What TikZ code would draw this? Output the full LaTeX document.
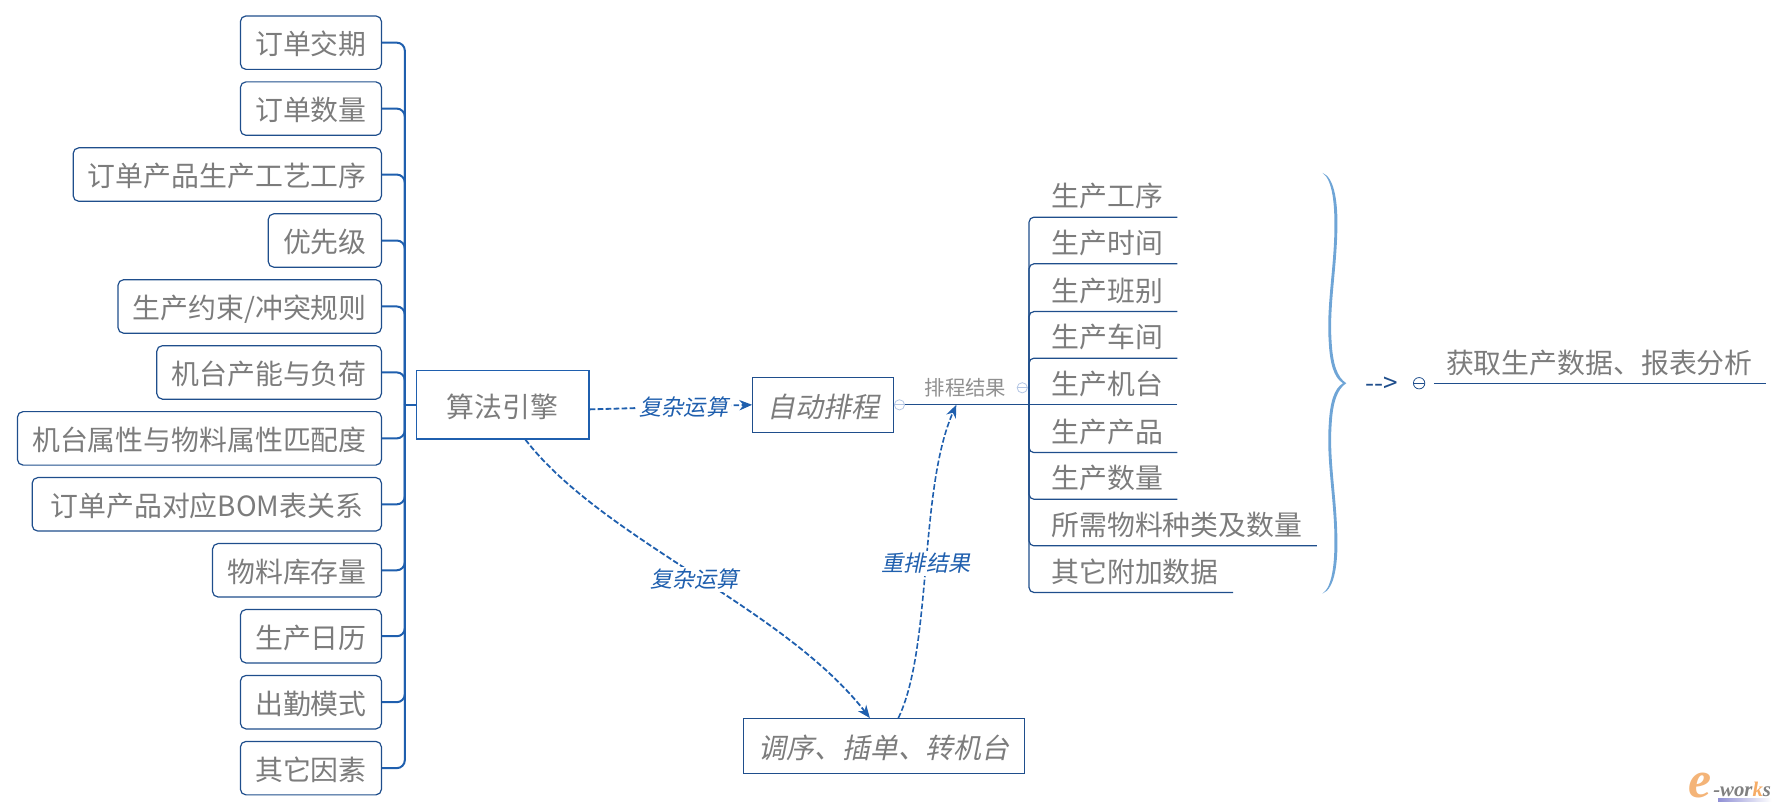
\documentclass[tikz,border=0pt]{standalone}
\usepackage{fontspec}
\setmainfont{Noto Sans CJK SC}
\newfontfamily\slantfont[FakeSlant=0.2]{Noto Sans CJK SC}
\newfontfamily\logofont{Liberation Serif}
\usepackage{tikz}
\usetikzlibrary{arrows.meta}

\definecolor{linkblue}{HTML}{1F5FAE}
\definecolor{thinblue}{HTML}{1F4E8C}
\definecolor{bracecol}{HTML}{6FA5D6}
\definecolor{textgray}{HTML}{7C7C7C}
\definecolor{ringblue}{HTML}{B4C6E4}
\definecolor{logoorange}{HTML}{F4B478}

\tikzset{
  bodyfont/.style={text=textgray, text height=6.9pt, text depth=0.8pt, font=\fontsize{6.97}{8}\selectfont},
  factor/.style={draw=thinblue, line width=0.3pt, rounded corners=1.4pt, anchor=east, inner xsep=0.13cm, inner ysep=0pt, minimum height=0.47cm, bodyfont},
  stage/.style={draw=thinblue, line width=0.3pt, inner sep=0pt, minimum height=0.48cm, bodyfont, font=\fontsize{6.97}{8}\selectfont\slantfont},
  leaf/.style={anchor=south west, inner sep=0pt, minimum height=0.38cm, bodyfont},
  flow/.style={-{Stealth[length=3.2pt, width=2.6pt]}, draw=linkblue, line width=0.45pt, dash pattern=on 1.4pt off 0.6pt},
  flowlabel/.style={fill=white, inner sep=0.6pt, text=linkblue, font=\fontsize{5.55}{7}\selectfont\slantfont},
  ring/.style={circle, draw=#1, line width=0.2pt, inner sep=0pt, minimum size=0.09cm, path picture={\draw[#1, line width=0.2pt] (path picture bounding box.west) -- (path picture bounding box.east);}}
}

\begin{document}
\begin{tikzpicture}[>=stealth, x=0.01cm, y=-0.01cm]
\useasboundingbox (0,0) rectangle (1568,714);

% ============================
% Left column: input factors
% ============================
\node[factor] (due)      at (336,37.5)  {订单交期};
\node[factor] (qty)      at (336,95.5)  {订单数量};
\node[factor] (process)  at (336,153.5) {订单产品生产工艺工序};
\node[factor] (priority) at (336,211.5) {优先级};
\node[factor] (rules)    at (336,269.5) {生产约束/冲突规则};
\node[factor] (capacity) at (336,327.5) {机台产能与负荷};
\node[factor] (match)    at (336,385.5) {机台属性与物料属性匹配度};
\node[factor, minimum width=3.07cm] (bom) at (336,443.5) {订单产品对应BOM表关系};
\node[factor] (stock)    at (336,501.5) {物料库存量};
\node[factor] (calendar) at (336,559.5) {生产日历};
\node[factor] (shift)    at (336,617.5) {出勤模式};
\node[factor] (other)    at (336,675.5) {其它因素};

% ============================
% Middle: engine and stages
% ============================
\node[draw=linkblue, line width=0.3pt, minimum width=1.52cm, minimum height=0.6cm, inner sep=0pt, bodyfont] (engine) at (442,356) {算法引擎};
\node[stage, minimum width=1.24cm] (schedule) at (724,356) {自动排程};
\node[stage, minimum width=2.47cm] (adjust)   at (777.5,656) {调序、插单、转机台};

% Bundle of factors into the engine
\coordinate (hub) at (356,356);
\begin{scope}[draw=linkblue, line width=0.5pt, rounded corners=2pt]
\draw (due.east) -| (hub);
\draw (qty.east) -| (hub);
\draw (process.east) -| (hub);
\draw (priority.east) -| (hub);
\draw (rules.east) -| (hub);
\draw (capacity.east) -| (hub);
\draw (match.east) -| (hub);
\draw (bom.east) -| (hub);
\draw (stock.east) -| (hub);
\draw (calendar.east) -| (hub);
\draw (shift.east) -| (hub);
\draw (other.east) -| (hub);
\draw (hub) -- (engine.west);
\end{scope}

% Dashed flows
\draw[flow] ([yshift=-0.04cm]engine.east) -- (schedule.west)
    node[flowlabel, pos=0.58] {复杂运算};
\draw[flow] ([xshift=0.2cm]engine.south) .. controls +(68,88) and +(-75,-97) .. ([xshift=-0.125cm]adjust.north)
    node[flowlabel, pos=0.5, yshift=-0.04cm] {复杂运算};
\draw[flow, line width=0.4pt] ([xshift=0.125cm]adjust.north) .. controls +(30,-62) and +(-33,74) .. (841,356)
    node[flowlabel, pos=0.5, yshift=0.03cm] {重排结果};

% ============================
% Right column: schedule results
% ============================
\node[leaf] (step)    at (924,191) {生产工序};
\node[leaf] (time)    at (924,232) {生产时间};
\node[leaf] (team)    at (924,274) {生产班别};
\node[leaf] (shop)    at (924,315) {生产车间};
\node[leaf] (machine) at (924,356) {生产机台};
\node[leaf] (product) at (924,398) {生产产品};
\node[leaf] (amount)  at (924,439) {生产数量};
\node[leaf] (material) at (924,480) {所需物料种类及数量};
\node[leaf] (extra)   at (924,521) {其它附加数据};

\coordinate (trunk) at (905,356);
\begin{scope}[draw=thinblue, line width=0.3pt, rounded corners=1.2pt]
\draw ([xshift=0.12cm]step.south east) -| (trunk);
\draw ([xshift=0.12cm]time.south east) -| (trunk);
\draw ([xshift=0.12cm]team.south east) -| (trunk);
\draw ([xshift=0.12cm]shop.south east) -| (trunk);
\draw ([xshift=0.12cm]machine.south east) -- (trunk);
\draw ([xshift=0.12cm]product.south east) -| (trunk);
\draw ([xshift=0.12cm]amount.south east) -| (trunk);
\draw ([xshift=0.12cm]material.south east) -| (trunk);
\draw ([xshift=0.12cm]extra.south east) -| (trunk);
\end{scope}

% Collapse marks and the result link
\node[ring=ringblue] (startmark) at (791,356) {};
\node[ring=ringblue] (endmark)   at (899,341) {};
\draw[thinblue, line width=0.3pt] (startmark.east) -- (trunk);
\node[inner sep=0pt, text=textgray!85, font=\fontsize{5.1}{6}\selectfont] (resultlabel) at (849,341) {排程结果};

% Brace
\fill[bracecol]
    (1163,152) .. controls (1174,156) and (1177,180) .. (1176,205)
    .. controls (1175,240) and (1169,270) .. (1171,300)
    .. controls (1172,320) and (1176,332) .. (1184,337)
    .. controls (1176,342) and (1172,354) .. (1171,374)
    .. controls (1169,404) and (1175,434) .. (1176,469)
    .. controls (1177,494) and (1174,518) .. (1163,522)
    .. controls (1172,516) and (1174,494) .. (1173.5,469)
    .. controls (1172.5,434) and (1166.5,404) .. (1168.5,374)
    .. controls (1169.5,354) and (1173,342) .. (1181,337)
    .. controls (1173,332) and (1169.5,320) .. (1168.5,300)
    .. controls (1166.5,270) and (1172.5,240) .. (1173.5,205)
    .. controls (1174,180) and (1172,158) .. (1163,152) -- cycle;

% ============================
% Far right: outcome
% ============================
\node[inner sep=0pt, text=thinblue, font=\fontsize{6.5}{8}\selectfont] (pointer) at (1215,338) {{-}{-}>};
\node[ring=thinblue, minimum size=0.1cm] (outmark) at (1248,337) {};
\node[anchor=south west, inner sep=0pt, minimum height=0.38cm, bodyfont] (outcome) at (1271,337) {获取生产数据、报表分析};
\draw[thinblue, line width=0.3pt] ([xshift=-0.1cm]outcome.south west) -- ([xshift=0.11cm]outcome.south east);

% Logo
\shade[left color=blue!45!gray!60, right color=white] (1511,702) rectangle (1558,704.5);
\node[inner sep=0pt, text=logoorange, font=\logofont\bfseries\itshape\fontsize{13}{14}\selectfont] (logoe) at (1495,691) {e};
\node[inner sep=0pt, anchor=west, text=gray, font=\logofont\bfseries\itshape\fontsize{5.2}{6}\selectfont] (logotext) at (1506,694) {-wor\textcolor{logoorange!85!orange}{k}s};

\end{tikzpicture}
\end{document}
